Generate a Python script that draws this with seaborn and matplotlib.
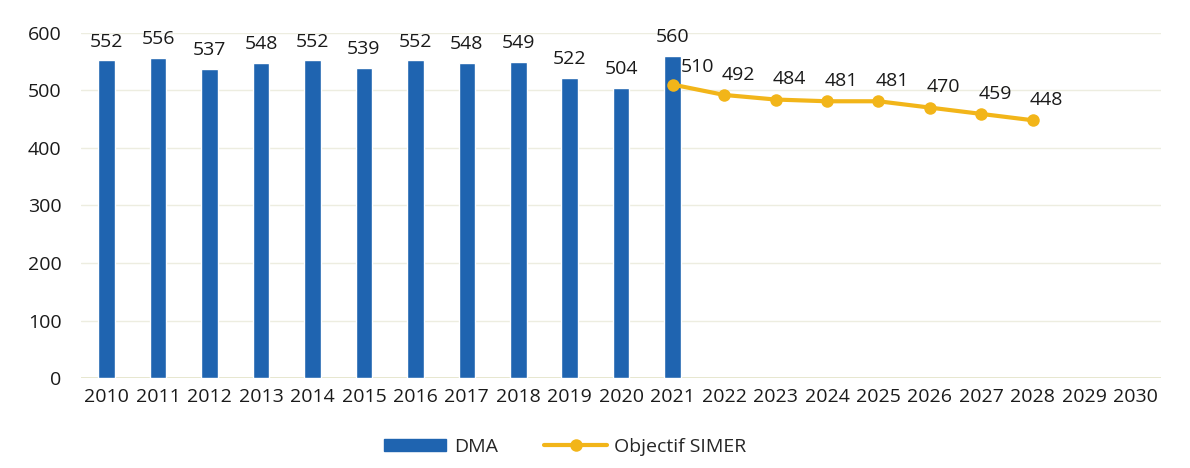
import numpy as np
import pandas as pd
import matplotlib
matplotlib.use("Agg")
import matplotlib.pyplot as plt
import seaborn as sns
from matplotlib.patches import Patch
from matplotlib.lines import Line2D

years = [str(y) for y in range(2010, 2031)]
dma_years = [str(y) for y in range(2010, 2022)]
dma_values = [552, 556, 537, 548, 552, 539, 552, 548, 549, 522, 504, 560]
obj_years = [str(y) for y in range(2021, 2029)]
obj_values = [510, 492, 484, 481, 481, 470, 459, 448]

BLUE = "#1F64B0"
GOLD = "#F2B519"
FS = 14

sns.set_theme(style="white")
plt.rcParams['font.family'] = ['Open Sans', 'DejaVu Sans']

fig = plt.figure(figsize=(11.9, 4.68), dpi=100)
ax = fig.add_axes([0.068, 0.192, 0.908, 0.738])

df_bar = pd.DataFrame({"year": dma_years, "value": dma_values})
sns.barplot(data=df_bar, x="year", y="value", order=years, color=BLUE,
            width=0.32, saturation=1, ax=ax, zorder=2)

pos = [years.index(y) for y in obj_years]
df_line = pd.DataFrame({"pos": pos, "value": obj_values})
sns.lineplot(data=df_line, x="pos", y="value", color=GOLD, linewidth=3,
             marker="o", markersize=9, markeredgewidth=0, ax=ax, zorder=3)

# bar labels
for y, v in zip(dma_years, dma_values):
    ax.annotate(str(v), (years.index(y), v), xytext=(0, 7), textcoords="offset points",
                ha="center", va="bottom", fontsize=FS, color="#1a1a1a")
# line labels
for i, (p, v) in enumerate(zip(pos, obj_values)):
    if i == 0:
        ax.annotate(str(v), (p, v), xytext=(6, 6), textcoords="offset points",
                    ha="left", va="bottom", fontsize=FS, color="#1a1a1a")
    else:
        ax.annotate(str(v), (p, v), xytext=(10, 8), textcoords="offset points",
                    ha="center", va="bottom", fontsize=FS, color="#1a1a1a")

ax.set_xlim(-0.5, len(years) - 0.5)
ax.set_ylim(0, 600)
ax.set_yticks([0, 100, 200, 300, 400, 500, 600])
ax.set_xticks(range(len(years)))
ax.set_xticklabels(years)
ax.tick_params(axis="both", labelsize=FS, colors="#1a1a1a", length=0)
ax.tick_params(axis="y", pad=14)
ax.tick_params(axis="x", pad=7)
ax.set_xlabel("")
ax.set_ylabel("")
ax.grid(axis="y", color="#EDEDE0", linewidth=1, zorder=0)
ax.axhline(0, color="#E4E4C8", linewidth=1.2, zorder=1)
for s in ax.spines.values():
    s.set_visible(False)

handles = [Patch(facecolor=BLUE, edgecolor=BLUE),
           Line2D([0], [0], color=GOLD, linewidth=3, marker="o", markersize=9,
                  markeredgewidth=0)]
fig.legend(handles, ["DMA", "Objectif SIMER"], loc="center",
           bbox_to_anchor=(0.475, 0.045), ncol=2, frameon=False, fontsize=FS,
           handlelength=3.2, handleheight=0.6, columnspacing=2.4, handletextpad=0.4)

fig.savefig("out.png", dpi=100)
